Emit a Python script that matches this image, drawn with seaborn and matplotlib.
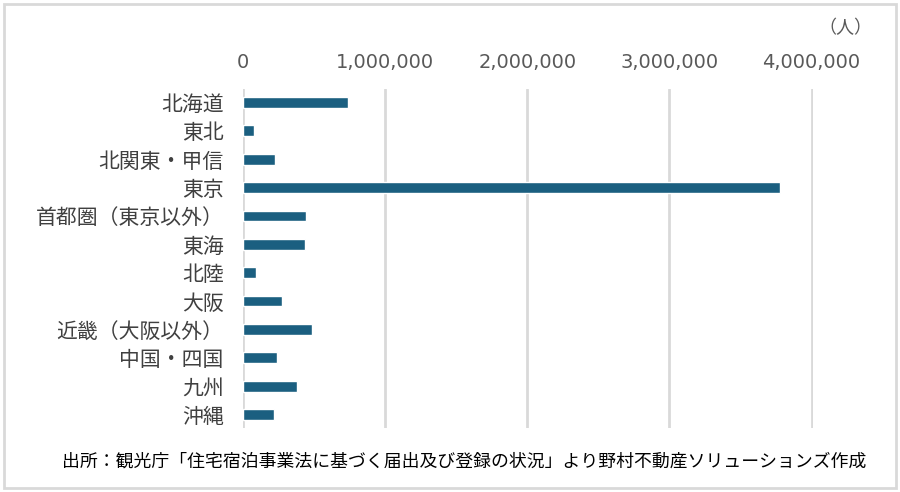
import matplotlib
matplotlib.use("Agg")
import matplotlib.pyplot as plt
import matplotlib.ticker as mticker
from matplotlib.patches import Rectangle
import pandas as pd
import seaborn as sns

# Regions and minpaku guest counts (persons)
regions = ["北海道", "東北", "北関東・甲信", "東京", "首都圏（東京以外）", "東海",
           "北陸", "大阪", "近畿（大阪以外）", "中国・四国", "九州", "沖縄"]
guests = [738000, 77000, 227000, 3779000, 443000, 436000,
          89000, 274000, 483000, 239000, 379000, 216000]
x_ticks = [0, 1000000, 2000000, 3000000, 4000000]

BAR = "#1b5f80"
GRID = "#d9d9d9"

sns.set_theme(style="white")
plt.rcParams["font.family"] = ["Noto Sans CJK JP", "DejaVu Sans"]

df = pd.DataFrame({"region": regions, "guests": guests})

fig = plt.figure(figsize=(9, 4.92), dpi=100)
ax = fig.add_axes([243 / 900, 1 - 428 / 492, (813 - 243) / 900, (428 - 89) / 492])

sns.barplot(df, x="guests", y="region", orient="h", color=BAR,
            width=0.38, saturation=1, ax=ax)

ax.set_xlim(0, 4010000)
ax.set_ylim(11.47, -0.47)
ax.set_xticks(x_ticks)
ax.xaxis.set_major_formatter(mticker.FuncFormatter(lambda v, _: f"{int(v):,}"))
ax.xaxis.tick_top()
ax.tick_params(axis="x", length=0, pad=12, labelsize=14, colors="#595959")
for lab in ax.get_xticklabels():
    lab.set_fontfamily("DejaVu Sans")
ax.tick_params(axis="y", length=0, pad=14, labelsize=15, colors="#404040")
ax.grid(axis="x", color=GRID, linewidth=2)
ax.set_axisbelow(True)
for s in ax.spines.values():
    s.set_visible(False)
ax.set_xlabel("")
ax.set_ylabel("")

fig.text(845 / 900, 1 - 28 / 492, "（人）", ha="center", va="center",
         fontsize=13, color="#595959")
fig.text(464 / 900, 1 - 462 / 492,
         "出所：観光庁「住宅宿泊事業法に基づく届出及び登録の状況」より野村不動産ソリューションズ作成",
         ha="center", va="center", fontsize=12.85, color="#000000")

fig.add_artist(Rectangle((4 / 900, 4 / 492), 892 / 900, 484 / 492,
                         transform=fig.transFigure, fill=False,
                         edgecolor=GRID, linewidth=2))

fig.savefig("out.png", dpi=100)
